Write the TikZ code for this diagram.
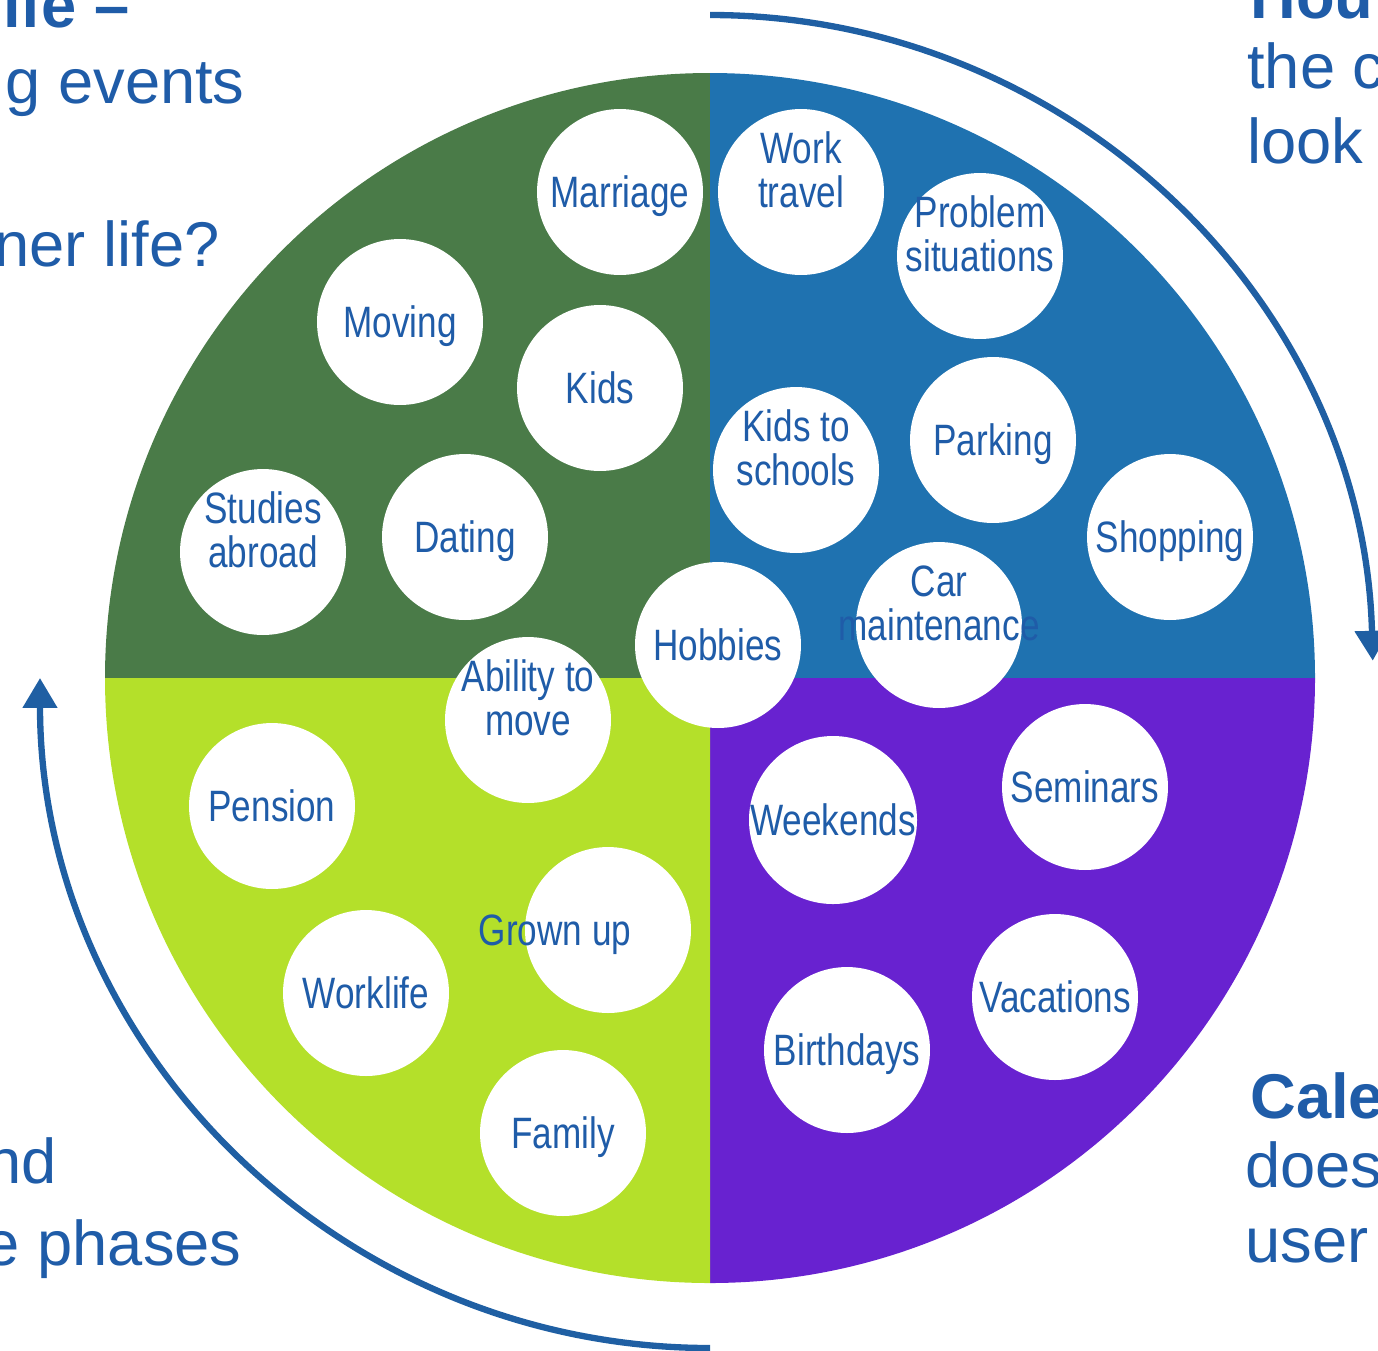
\documentclass[tikz,border=0pt]{standalone}
\usepackage{fontspec}
\setmainfont{Liberation Sans}
\newfontfamily\narrowfont[FakeStretch=0.8]{Liberation Sans}
\usetikzlibrary{arrows.meta}
\definecolor{textblue}{HTML}{1F5CA8}
\definecolor{arcblue}{HTML}{1F5FA3}
\definecolor{lifegreen}{HTML}{4A7B48}
\definecolor{dayblue}{HTML}{1F72B0}
\definecolor{limegreen}{HTML}{B4E02A}
\definecolor{weekpurple}{HTML}{6822D0}
\tikzset{
  eventtext/.style = {align=center, text=textblue, inner sep=0pt, text height=18pt, text depth=0pt, font=\narrowfont\fontsize{25}{25}\selectfont},
  event/.style = {circle, fill=white, minimum size=3.32cm, eventtext},
  roundarrow/.style = {draw=arcblue, line width=3.6pt, -{Triangle[length=17pt,width=19pt]}},
  corner/.style = {text=textblue, inner sep=0pt, font=\fontsize{36}{40}\selectfont},
  cornerbold/.style = {corner, font=\fontsize{36}{40}\selectfont\bfseries}
}

\begin{document}
\begin{tikzpicture}[x=0.02cm, y=-0.02cm]
  \useasboundingbox (0,0) rectangle (1378,1350);
  \clip (0,0) rectangle (1378,1350);

  % the four quarters of the wheel
  \coordinate (hub) at (710,678);
  \fill[lifegreen] (hub) -- ++(-605,0) arc[start angle=180, end angle=270, radius=605] -- cycle;
  \fill[dayblue] (hub) -- ++(0,-605) arc[start angle=270, end angle=360, radius=605] -- cycle;
  \fill[weekpurple] (hub) -- ++(605,0) arc[start angle=0, end angle=90, radius=605] -- cycle;
  \fill[limegreen] (hub) -- ++(0,605) arc[start angle=90, end angle=180, radius=605] -- cycle;

  % arrows round the wheel
  \coordinate (toparc) at (710,15);
  \coordinate (botarc) at (710,1348);
  \draw[roundarrow] (toparc) arc[start angle=270, end angle=358.5, radius=663];
  \draw[roundarrow] (botarc) arc[start angle=90, end angle=180, radius=670];

  % life events
  \node[event] (marriage) at (620,192) {Marriage};
  \node[event] (moving) at (400,322) {Moving};
  \node[event] (kids) at (600,388) {Kids};
  \node[event] (studies) at (263,552) {Studies\\abroad};
  \node[event] (dating) at (465,537) {Dating};
  \node[event] (hobbies) at (718,645) {Hobbies};

  % daily matters
  \node[event] (worktravel) at (801,192) {Work\\travel};
  \node[event] (problems) at (980,256) {Problem\\situations};
  \node[event] (kidsschools) at (796,470) {Kids to\\schools};
  \node[event] (parking) at (993,440) {Parking};
  \node[event] (shopping) at (1170,537) {Shopping};
  \node[event] (carcare) at (939,625) {};
  \node[eventtext] (carcarelabel) at (939,625) {Car\\maintenance};

  % life phases
  \node[event] (ability) at (528,720) {Ability to\\move};
  \node[event] (pension) at (272,806) {Pension};
  \node[event] (grownup) at (608,930) {};
  \node[eventtext] (grownuplabel) at (555,930) {Grown up};
  \node[event] (worklife) at (366,993) {Worklife};
  \node[event] (family) at (563,1133) {Family};

  % calendar
  \node[event] (weekends) at (833,820) {Weekends};
  \node[event] (seminars) at (1085,787) {Seminars};
  \node[event] (vacations) at (1055,997) {Vacations};
  \node[event] (birthdays) at (847,1050) {Birthdays};

  % texts cut off at the edges
  \node[cornerbold, anchor=base east] (lifetitle) at (130,27) {ife –};
  \node[corner, anchor=base east] (lifeevents) at (245,103) {g events};
  \node[corner, anchor=base east] (lifequestion) at (220,266) {ner life?};
  \node[cornerbold, anchor=base west] (calhow) at (1250,18) {Hou};
  \node[corner, anchor=base west] (calthe) at (1247,88) {the c};
  \node[corner, anchor=base west] (callook) at (1247,163) {look};
  \node[corner, anchor=base east] (phasend) at (57,1183) {nd};
  \node[corner, anchor=base east] (phases) at (242,1265) {e phases};
  \node[cornerbold, anchor=base west] (calename) at (1250,1118) {Cale};
  \node[corner, anchor=base west] (caldoes) at (1245,1187) {does};
  \node[corner, anchor=base west] (caluser) at (1245,1262) {user};
\end{tikzpicture}
\end{document}
